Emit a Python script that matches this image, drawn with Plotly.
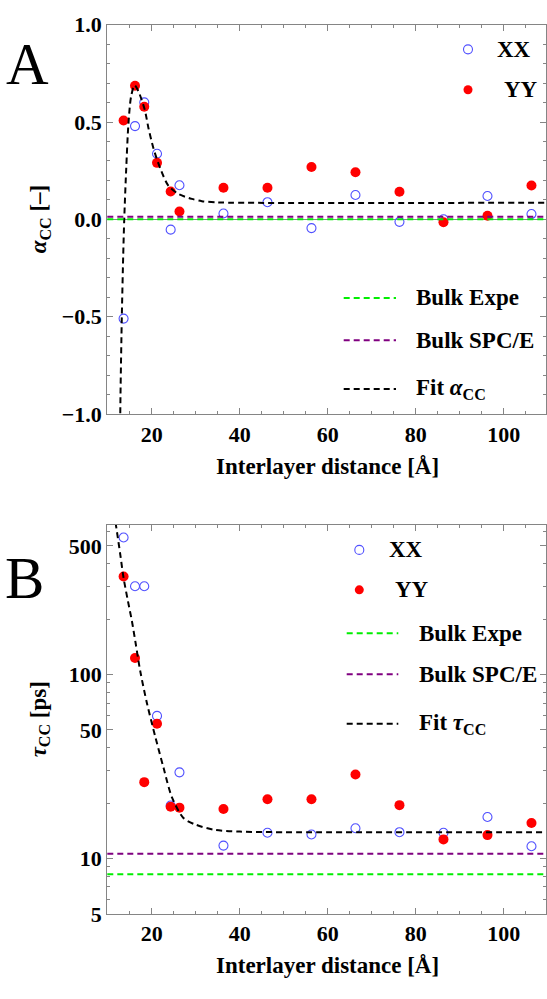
import plotly.graph_objects as go

W, H = 547, 999

# ---- data -------------------------------------------------------------
# interlayer distance (Å)
distance = [13.6, 16.2, 18.3, 21.2, 24.3, 26.3, 36.3, 46.3, 56.3, 66.3, 76.3, 86.3, 96.3, 106.3]

# panel A: alpha_CC
alpha_xx = [-0.51, 0.479, 0.601, 0.337, -0.053, 0.175, 0.030, 0.088, -0.045, 0.125, -0.013, 0.0, 0.120, 0.027]
alpha_yy = [0.508, 0.686, 0.578, 0.290, 0.143, 0.040, 0.162, 0.162, 0.269, 0.242, 0.142, -0.015, 0.018, 0.174]
alpha_bulk_expe = 0.0
alpha_bulk_spce = 0.013
alpha_fit_x = [12.8, 12.9, 13.2, 13.5, 13.75, 14.2, 14.7, 15.3, 16.1, 17.0, 18.4, 19.3, 20.4,
               21.9, 23.8, 26.1, 29.1, 31.4, 35.0, 40.0, 110.0]
alpha_fit_y = [-1.1, -0.9, -0.5, -0.2, 0.0, 0.26, 0.49, 0.63, 0.689, 0.656, 0.564, 0.464, 0.364,
               0.264, 0.172, 0.130, 0.105, 0.093, 0.087, 0.085, 0.085]

# panel B: tau_CC (ps)
tau_xx = [556, 302, 302, 59.6, 19.4, 29.4, 11.75, 13.8, 13.5, 14.6, 13.9, 13.8, 16.8, 11.65]
tau_yy = [341, 123, 26.0, 54.0, 19.1, 18.9, 18.6, 21.0, 21.0, 28.6, 19.5, 12.7, 13.4, 15.6]
tau_bulk_expe = 8.2
tau_bulk_spce = 10.6
tau_fit_x = [11.4, 12.1, 12.9, 13.6, 14.6, 15.5, 16.3, 17.4, 18.9, 20.8, 22.7, 24.6, 27.2,
             29.9, 34.4, 40.0, 50.0, 110.0]
tau_fit_y = [760, 596, 440, 335, 250, 195, 150, 104, 70, 46, 31, 21.5, 16.6,
             15.3, 14.3, 14.0, 13.9, 13.9]

x_ticks = [20, 40, 60, 80, 100]
x_minor = [15, 25, 30, 35, 45, 50, 55, 65, 70, 75, 85, 90, 95, 105]
a_ticks = [-1.0, -0.5, 0.0, 0.5, 1.0]
a_ticktext = ["\u22121.0", "\u22120.5", "0.0", "0.5", "1.0"]
a_minor = [v / 10 for v in range(-9, 10) if v % 5 != 0]
t_ticks = [5, 10, 50, 100, 500]
t_minor = [6, 7, 8, 9, 20, 30, 40, 60, 70, 80, 90, 200, 300, 400, 600]

# ---- style ------------------------------------------------------------
SERIF = "Liberation Serif"
FRAME = "#858585"
BLUE = "rgb(80,80,255)"
RED = "#ff0000"
GREEN = "#00ee00"
PURPLE = "#800080"
DASH = "6px,4px"
TEXT_SIZE = 23
TICK_SIZE = 22


def fx(p):
    return p / W


def fy(p):
    return 1 - p / H


fig = go.Figure()

# panel A traces
fig.add_trace(go.Scatter(x=distance, y=alpha_xx, mode="markers", xaxis="x", yaxis="y",
                         marker=dict(symbol="circle-open", size=9, color=BLUE, line=dict(width=1.1)),
                         showlegend=False))
fig.add_trace(go.Scatter(x=distance, y=alpha_yy, mode="markers", xaxis="x", yaxis="y",
                         marker=dict(symbol="circle", size=10, color=RED), showlegend=False))
fig.add_trace(go.Scatter(x=alpha_fit_x, y=alpha_fit_y, mode="lines", xaxis="x", yaxis="y",
                         line=dict(color="black", width=2, dash=DASH, shape="spline", smoothing=0.8),
                         showlegend=False))

# panel B traces
fig.add_trace(go.Scatter(x=distance, y=tau_xx, mode="markers", xaxis="x2", yaxis="y2",
                         marker=dict(symbol="circle-open", size=9, color=BLUE, line=dict(width=1.1)),
                         showlegend=False))
fig.add_trace(go.Scatter(x=distance, y=tau_yy, mode="markers", xaxis="x2", yaxis="y2",
                         marker=dict(symbol="circle", size=10, color=RED), showlegend=False))
fig.add_trace(go.Scatter(x=tau_fit_x, y=tau_fit_y, mode="lines", xaxis="x2", yaxis="y2",
                         line=dict(color="black", width=2, dash=DASH, shape="spline", smoothing=0.8),
                         showlegend=False))

# bulk reference lines
for yref, val, col in [("y", alpha_bulk_expe, GREEN), ("y", alpha_bulk_spce, PURPLE),
                       ("y2", tau_bulk_expe, GREEN), ("y2", tau_bulk_spce, PURPLE)]:
    xref = "x domain" if yref == "y" else "x2 domain"
    fig.add_shape(type="line", xref=xref, yref=yref, x0=0, x1=1, y0=val, y1=val,
                  line=dict(color=col, width=2, dash=DASH), layer="above")

x_dom = [fx(107.3), fx(546)]
tick_font = dict(family=SERIF, size=TICK_SIZE, color="black", weight="bold")

common_x = dict(range=[9.9, 109.6], domain=x_dom, showgrid=False, zeroline=False,
                showline=True, linecolor=FRAME, linewidth=1.3, mirror="allticks",
                ticks="inside", ticklen=6, tickwidth=1, tickcolor=FRAME,
                tickmode="array", tickvals=x_ticks, ticktext=[str(v) for v in x_ticks],
                tickfont=tick_font,
                minor=dict(tickmode="array", tickvals=x_minor, ticks="inside", ticklen=3,
                           tickwidth=1, tickcolor=FRAME, showgrid=False))

fig.update_layout(
    width=W, height=H,
    margin=dict(l=0, r=0, t=0, b=0),
    paper_bgcolor="white", plot_bgcolor="white",
    showlegend=False,
    xaxis=dict(anchor="y", **common_x),
    yaxis=dict(domain=[fy(412.3), fy(13)], anchor="x", range=[-1, 1],
               showgrid=False, zeroline=True, zerolinecolor=FRAME, zerolinewidth=1.3,
               showline=True, linecolor=FRAME, linewidth=1.3, mirror="allticks",
               ticks="inside", ticklen=6, tickwidth=1, tickcolor=FRAME,
               tickmode="array", tickvals=a_ticks, ticktext=a_ticktext, tickfont=tick_font,
               minor=dict(tickmode="array", tickvals=a_minor, ticks="inside", ticklen=3,
                          tickwidth=1, tickcolor=FRAME, showgrid=False)),
    xaxis2=dict(anchor="y2", **common_x),
    yaxis2=dict(domain=[fy(925), fy(526)], anchor="x2", type="log",
                range=[0.69897, 2.814],
                showgrid=False, zeroline=False,
                showline=True, linecolor=FRAME, linewidth=1.3, mirror="allticks",
                ticks="inside", ticklen=6, tickwidth=1, tickcolor=FRAME,
                tickmode="array", tickvals=t_ticks, ticktext=[str(v) for v in t_ticks],
                tickfont=tick_font,
                minor=dict(tickmode="array", tickvals=t_minor, ticks="inside", ticklen=3,
                           tickwidth=1, tickcolor=FRAME, showgrid=False)),
)


def text(x, y, s, size=TEXT_SIZE, anchor="left", angle=0, weight="bold"):
    fig.add_annotation(x=fx(x), y=fy(y), xref="paper", yref="paper", text=s,
                       showarrow=False, xanchor=anchor, yanchor="middle", textangle=angle,
                       font=dict(family=SERIF, size=size, color="black", weight=weight))


# panel letters
text(27.5, 53, "A", size=59, anchor="center", weight="normal")
text(24.5, 581, "B", size=59, anchor="center", weight="normal")

# axis titles
text(327, 466, "Interlayer distance [Å]", anchor="center")
text(327, 978, "Interlayer distance [Å]", anchor="center")
text(40, 212.6, "<i>α</i><sub>CC</sub> [–]", anchor="center", angle=-90)
text(40, 725.5, "<i>τ</i><sub>CC</sub> [ps]", anchor="center", angle=-90)


def marker_key(x, y, filled):
    r = 4.5
    fig.add_shape(type="circle", xref="paper", yref="paper", xsizemode="pixel", ysizemode="pixel",
                  xanchor=fx(x), yanchor=fy(y), x0=-r, x1=r, y0=-r, y1=r,
                  fillcolor=RED if filled else "rgba(0,0,0,0)",
                  line=dict(color=RED if filled else BLUE, width=0 if filled else 1.1))


def line_key(x0, x1, y, col):
    fig.add_shape(type="line", xref="paper", yref="paper", x0=fx(x0), x1=fx(x1), y0=fy(y), y1=fy(y),
                  line=dict(color=col, width=2, dash=DASH))


# panel A keys
marker_key(468, 38.3, False)
text(495, 38.3, "XX")
marker_key(468, 79.7, True)
text(502, 79.7, "YY")
line_key(343.7, 396, 293.3, GREEN)
text(413.5, 293.3, "Bulk Expe")
line_key(343.7, 396, 336.7, PURPLE)
text(413.5, 336.7, "Bulk SPC/E")
line_key(343.7, 396, 386.7, "black")
text(413.5, 386.7, "Fit <i>α</i><sub>CC</sub>")

# panel B keys
marker_key(359.3, 551.7, False)
text(386.7, 551.7, "XX")
marker_key(359.3, 592.7, True)
text(393, 592.7, "YY")
line_key(346.7, 398.3, 637.3, GREEN)
text(416.7, 637.3, "Bulk Expe")
line_key(346.7, 398.3, 679.3, PURPLE)
text(416.7, 679.3, "Bulk SPC/E")
line_key(346.7, 398.3, 730, "black")
text(416.7, 730, "Fit <i>τ</i><sub>CC</sub>")

fig.write_html("out.html")
